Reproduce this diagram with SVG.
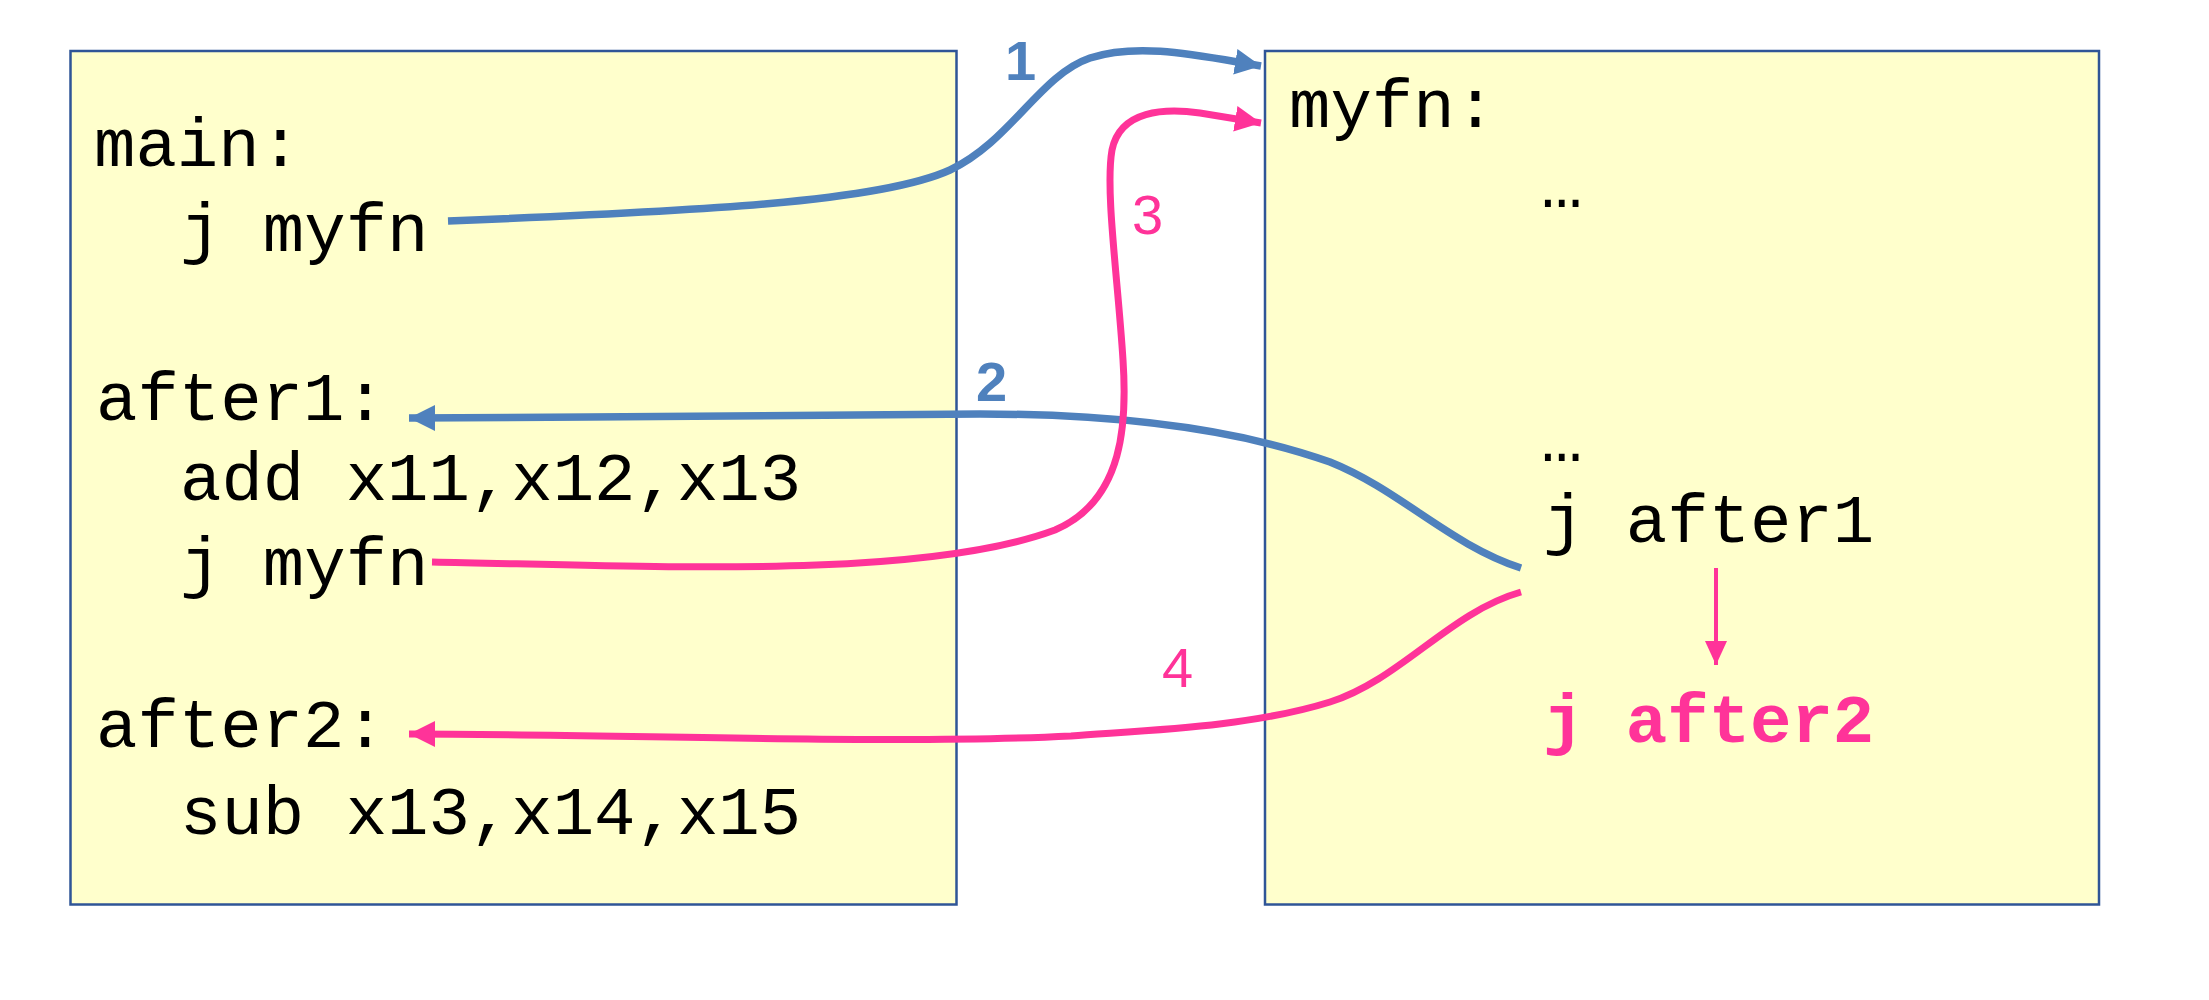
<svg xmlns="http://www.w3.org/2000/svg" width="2209" height="1000" viewBox="0 0 2209 1000">
<style>
.box{fill:#FFFFCC;stroke:#2F5597;stroke-width:2.5}
.code{font-family:"Liberation Mono","Courier New",monospace;font-size:69px;fill:#000}
.hl{font-weight:bold;fill:#FF3399}
.num{font-family:"Liberation Sans",Arial,sans-serif;font-size:56px}
.blue{fill:none;stroke:#4F81BD;stroke-width:7.5}
.pink{fill:none;stroke:#FF3399;stroke-width:7}
</style>
<defs>
<marker id="ab" markerUnits="userSpaceOnUse" markerWidth="28" markerHeight="28" refX="26" refY="14" orient="auto"><path d="M0,1 L26,14 L0,27 Z" fill="#4F81BD"/></marker>
<marker id="ap" markerUnits="userSpaceOnUse" markerWidth="28" markerHeight="28" refX="26" refY="14" orient="auto"><path d="M0,1 L26,14 L0,27 Z" fill="#FF3399"/></marker>
<marker id="ap2" markerUnits="userSpaceOnUse" markerWidth="26" markerHeight="26" refX="24" refY="11" orient="auto"><path d="M0,0 L24,11 L0,22 Z" fill="#FF3399"/></marker>
</defs>
<rect width="2209" height="1000" fill="#fff"/>
<g id="main-box">
<rect class="box" x="70.5" y="51" width="886" height="853.5"/>
<text class="code" x="94" y="166">main:</text>
<text class="code" x="180" y="251">j myfn</text>
<text class="code" x="96" y="420">after1:</text>
<text class="code" x="180" y="500">add x11,x12,x13</text>
<text class="code" x="180" y="585">j myfn</text>
<text class="code" x="96" y="747">after2:</text>
<text class="code" x="180" y="834">sub x13,x14,x15</text>
</g>
<g id="myfn-box">
<rect class="box" x="1265" y="51" width="834" height="853.5"/>
<text class="code" x="1289" y="127">myfn:</text>
<text class="code" x="1541" y="207">…</text>
<text class="code" x="1541" y="461">…</text>
<text class="code" x="1543" y="542">j after1</text>
<text class="code hl" x="1543" y="742">j after2</text>
</g>
<g id="connectors">
<path class="blue" marker-end="url(#ab)" d="M448 221 C700 211 880 202 950 170 C1010 142 1040 75 1090 58 C1140 42 1200 56 1261 66"/>
<path class="blue" marker-end="url(#ab)" d="M1521 568 C1450 545 1400 490 1330 462 C1240 430 1120 414 980 414 C800 414 600 418 409 418"/>
<path class="pink" marker-end="url(#ap)" d="M432 562 C650 566 920 580 1055 530 C1125 500 1127 420 1123 360 C1118 280 1105 190 1112 150 C1120 110 1165 108 1200 113 L1261 123"/>
<path class="pink" marker-end="url(#ap)" d="M1521 592 C1450 612 1400 680 1330 702 C1250 727 1150 730 1071 736 C900 745 600 734 409 734"/>
<path fill="none" stroke="#FF3399" stroke-width="4" marker-end="url(#ap2)" d="M1716 568 L1716 665"/>
<text class="num" x="1005" y="80" font-weight="bold" fill="#4F81BD">1</text>
<text class="num" x="976" y="401" font-weight="bold" fill="#4F81BD">2</text>
<text class="num" x="1132" y="234" fill="#FF3399">3</text>
<text class="num" x="1162" y="687" fill="#FF3399">4</text>
</g>
</svg>
